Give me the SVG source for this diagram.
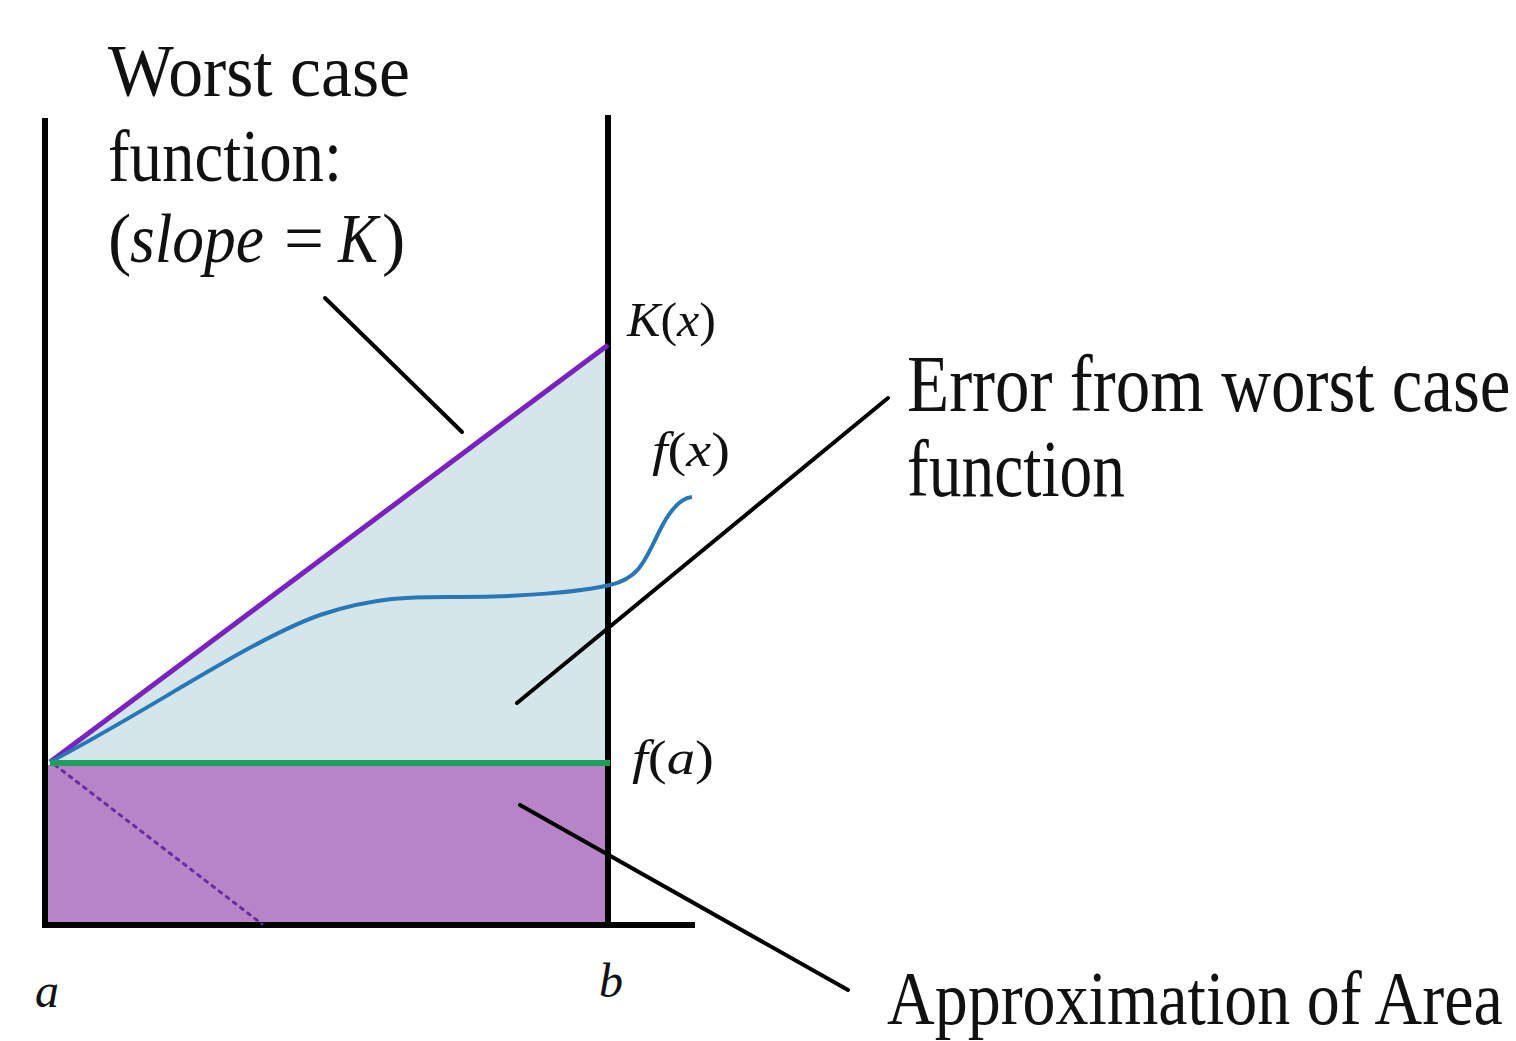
<svg xmlns="http://www.w3.org/2000/svg" width="1516" height="1041" viewBox="0 0 1516 1041">
<style>
.lbl{font-family:"Liberation Serif","DejaVu Serif",serif;fill:#111}
.it{font-style:italic}
.axis{stroke:#000;stroke-width:6;fill:none;stroke-linecap:butt}
.lead{stroke:#000;stroke-width:4;fill:none;stroke-linecap:round}
</style>
<rect width="1516" height="1041" fill="#fff"/>
<g id="regions">
<polygon points="50,762 608,345 608,763" fill="#d4e6ea"/>
<rect x="48" y="765" width="560" height="158" fill="#b784c7"/>
</g>
<g id="axes">
<line class="axis" x1="45" y1="118" x2="45" y2="928"/>
<line class="axis" x1="608" y1="115" x2="608" y2="925"/>
<line class="axis" x1="42" y1="925" x2="695" y2="925"/>
</g>
<g id="curves">
<line x1="55" y1="765" x2="262" y2="924" stroke="#6a2aa0" stroke-width="3" stroke-dasharray="3,6" stroke-linecap="round"/>
<line x1="50" y1="762" x2="608" y2="345" stroke="#7a22c0" stroke-width="5"/>
<path d="M50,762 C150,710 250,640 320,615 C380,595 420,597 460,597 C520,597 580,592 610,585 C640,578 645,560 660,530 C670,510 680,498 692,497" fill="none" stroke="#2878b8" stroke-width="4"/>
<line x1="50" y1="763" x2="610" y2="763" stroke="#1ea05a" stroke-width="6"/>
</g>
<g id="connectors">
<line class="lead" x1="325" y1="298" x2="462" y2="432"/>
<line class="lead" x1="517" y1="703" x2="888" y2="398"/>
<line class="lead" x1="520" y1="805" x2="848" y2="990"/>
</g>
<g id="label-worst">
<text class="lbl" x="108" y="96" font-size="74" textLength="302" lengthAdjust="spacingAndGlyphs">Worst case</text>
<text class="lbl" x="108" y="181" font-size="74" textLength="234" lengthAdjust="spacingAndGlyphs">function:</text>
<text class="lbl" x="108" y="262" font-size="70">(</text>
<text class="lbl it" x="130" y="262" font-size="70" textLength="134" lengthAdjust="spacingAndGlyphs">slope</text>
<text class="lbl" x="284" y="262" font-size="70" textLength="40" lengthAdjust="spacingAndGlyphs">=</text>
<text class="lbl it" x="338" y="262" font-size="70" textLength="40" lengthAdjust="spacingAndGlyphs">K</text>
<text class="lbl" x="382" y="262" font-size="70">)</text>
</g>
<g id="label-Kx"><text class="lbl" x="627" y="336" font-size="48" textLength="89" lengthAdjust="spacingAndGlyphs"><tspan class="it">K</tspan>(<tspan class="it">x</tspan>)</text></g>
<g id="label-fx"><text class="lbl" x="652" y="466" font-size="48" textLength="78" lengthAdjust="spacingAndGlyphs"><tspan class="it">f</tspan>(<tspan class="it">x</tspan>)</text></g>
<g id="label-fa"><text class="lbl" x="632" y="774" font-size="48" textLength="82" lengthAdjust="spacingAndGlyphs"><tspan class="it">f</tspan>(<tspan class="it">a</tspan>)</text></g>
<g id="label-a"><text class="lbl it" x="35" y="1007" font-size="48">a</text></g>
<g id="label-b"><text class="lbl it" x="599" y="997" font-size="48">b</text></g>
<g id="label-error">
<text class="lbl" font-size="69" transform="translate(907,411) scale(1,1.15)">Error from worst case</text>
<text class="lbl" font-size="69" textLength="218" lengthAdjust="spacingAndGlyphs" transform="translate(907,496) scale(1,1.15)">function</text>
</g>
<g id="label-approx"><text class="lbl" font-size="66" transform="translate(887,1024) scale(1,1.15)">Approximation of Area</text></g>
</svg>
